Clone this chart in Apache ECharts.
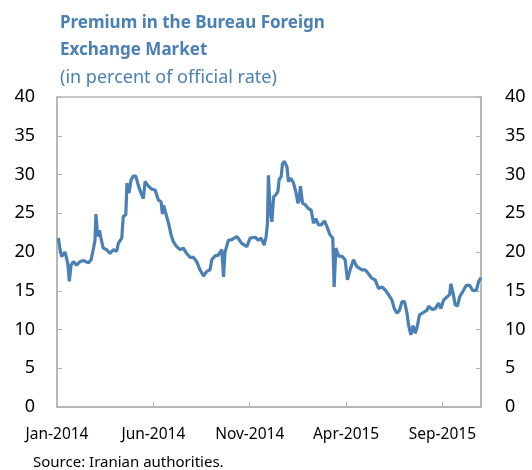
<!DOCTYPE html>
<html lang="en">
<head>
  <meta charset="utf-8">
  <title>Premium in the Bureau Foreign Exchange Market</title>
  <script src="https://cdn.jsdelivr.net/npm/echarts@6/dist/echarts.min.js"></script>
  <style>
    html, body { margin: 0; padding: 0; background: #fff; }
  </style>
</head>
<body>
<div id="main" style="width:532px;height:470px"></div>
<script type="text/javascript">
    // x position = months since Jan-2014
    var monthPos = [0.07, 0.16, 0.24, 0.42, 0.56, 0.64, 0.73, 0.85, 1.02, 1.19, 1.37, 1.63, 1.77, 1.88, 1.97,
        2.02, 2.11, 2.20, 2.28, 2.40, 2.58, 2.75, 2.92, 3.10, 3.18, 3.36, 3.44, 3.57, 3.63, 3.74, 3.84,
        3.96, 4.09, 4.22, 4.36, 4.48, 4.57, 4.71, 4.92, 5.09, 5.26, 5.40, 5.47, 5.54, 5.62, 5.79, 5.92,
        6.04, 6.21, 6.39, 6.56, 6.73, 6.91, 7.08, 7.25, 7.42, 7.60, 7.77, 7.94, 8.03, 8.20, 8.37, 8.55,
        8.64, 8.72, 8.89, 9.07, 9.33, 9.59, 9.85, 10.02, 10.28, 10.45, 10.59, 10.75, 10.80, 10.85, 10.92,
        10.97, 11.06, 11.15, 11.24, 11.36, 11.46, 11.53, 11.63, 11.70, 11.80, 11.93, 12.01, 12.15, 12.27,
        12.39, 12.50, 12.56, 12.63, 12.74, 12.88, 13.05, 13.19, 13.31, 13.43, 13.57, 13.71, 13.88, 14.00,
        14.17, 14.31, 14.38, 14.47, 14.61, 14.81, 14.95, 15.07, 15.21, 15.38, 15.56, 15.82, 15.99, 16.16,
        16.34, 16.51, 16.68, 16.86, 17.03, 17.20, 17.38, 17.50, 17.64, 17.77, 17.90, 18.03, 18.16, 18.24,
        18.36, 18.47, 18.59, 18.71, 18.81, 19.02, 19.20, 19.28, 19.46, 19.63, 19.80, 19.92, 20.06, 20.23,
        20.37, 20.44, 20.55, 20.66, 20.78, 20.89, 21.06, 21.24, 21.41, 21.58, 21.76, 21.88, 22.0];
    var premium = [21.8, 20.3, 19.4, 20.0, 18.5, 16.2, 18.3, 18.75, 18.3, 18.75, 18.9, 18.6, 19.0, 20.3, 21.5,
        24.9, 22.0, 22.8, 21.8, 20.5, 20.3, 19.8, 20.3, 20.1, 21.1, 21.8, 24.6, 24.8, 28.9, 27.6, 29.3,
        29.8, 29.8, 28.6, 27.6, 26.9, 29.1, 28.6, 28.1, 28.0, 26.7, 26.5, 24.9, 26.0, 25.2, 23.7, 22.2,
        21.3, 20.7, 20.3, 20.5, 19.8, 19.3, 19.3, 18.75, 17.7, 16.9, 17.5, 17.7, 19.0, 19.5, 19.6, 20.3,
        16.8, 20.0, 21.5, 21.6, 22.0, 21.1, 20.7, 21.8, 21.9, 21.5, 21.8, 20.9, 21.1, 22.0, 23.7,
        29.9, 25.4, 23.9, 27.1, 27.4, 27.8, 29.4, 29.7, 31.4, 31.7, 31.0, 29.1, 29.5, 28.9,
        27.8, 26.3, 26.7, 28.5, 26.3, 26.1, 25.6, 25.4, 23.7, 24.3, 23.5, 23.5, 24.0, 23.3,
        22.2, 21.8, 15.5, 20.5, 19.5, 19.4, 19.0, 16.4, 17.7, 19.0, 18.1, 17.7, 17.7, 17.2,
        16.6, 16.4, 15.3, 15.5, 15.1, 14.5, 13.8, 12.7, 12.1, 12.5, 13.6, 13.6, 12.1, 10.6,
        9.3, 10.5, 9.5, 10.6, 11.9, 12.2, 12.5, 13.0, 12.6, 12.7, 13.4, 12.7, 13.8, 14.2,
        14.5, 15.9, 14.7, 13.2, 13.0, 14.2, 14.9, 15.7, 15.7, 15.0, 15.1, 16.2, 16.7];
    var monthNames = ['Jan', 'Feb', 'Mar', 'Apr', 'May', 'Jun', 'Jul', 'Aug', 'Sep', 'Oct', 'Nov', 'Dec'];

    var myChart = echarts.init(document.getElementById('main'));

    var points = [];
    for (var i = 0; i < monthPos.length; i++) {
        points.push([monthPos[i], premium[i]]);
    }

    var font = '"Noto Sans", "Open Sans", sans-serif';
    var axisGray = '#b3b3b3';

    var yAxisBase = {
        type: 'value',
        min: 0,
        max: 40,
        interval: 5,
        axisLine: {show: true, lineStyle: {color: axisGray, width: 1.5}},
        axisTick: {show: true, inside: true, length: 5, lineStyle: {color: axisGray}},
        splitLine: {show: false},
        axisLabel: {color: '#000', fontSize: 18, fontFamily: font}
    };

    var option = {
        animation: false,
        textStyle: {fontFamily: font},
        title: [{
            text: 'Premium in the Bureau Foreign\nExchange Market',
            left: 55,
            top: 5,
            textStyle: {color: '#4a80b3', fontSize: 17, fontWeight: 'bold', lineHeight: 27, fontFamily: font}
        }, {
            text: '(in percent of official rate)',
            left: 55,
            top: 64,
            textStyle: {color: '#4a80b3', fontSize: 18, fontWeight: 'normal', fontFamily: font}
        }, {
            text: 'Source: Iranian authorities.',
            left: 28,
            top: 450,
            textStyle: {color: '#000', fontSize: 15, fontWeight: 'normal', fontFamily: font}
        }],
        grid: {
            left: 57,
            right: 51,
            top: 97,
            bottom: 63,
            show: true,
            borderColor: axisGray,
            borderWidth: 1.5
        },
        xAxis: {
            type: 'value',
            min: 0,
            max: 22,
            interval: 5,
            axisLine: {show: true, lineStyle: {color: axisGray, width: 1.5}},
            axisTick: {show: true, inside: true, length: 5, lineStyle: {color: axisGray}},
            splitLine: {show: false},
            axisLabel: {
                color: '#000',
                fontSize: 15.5,
                fontFamily: font,
                margin: 20,
                showMaxLabel: false,
                formatter: function (v) {
                    var m = Math.round(v);
                    return monthNames[m % 12] + '-' + (2014 + Math.floor(m / 12));
                }
            }
        },
        yAxis: [
            Object.assign({}, yAxisBase, {position: 'left', axisLabel: Object.assign({}, yAxisBase.axisLabel, {margin: 22})}),
            Object.assign({}, yAxisBase, {position: 'right', axisLabel: Object.assign({}, yAxisBase.axisLabel, {margin: 24})})
        ],
        series: [{
            name: 'Premium',
            type: 'line',
            yAxisIndex: 0,
            symbol: 'none',
            lineStyle: {color: '#4a80b3', width: 3.2},
            data: points
        }]
    };

    myChart.setOption(option);
</script>
</body>
</html>
